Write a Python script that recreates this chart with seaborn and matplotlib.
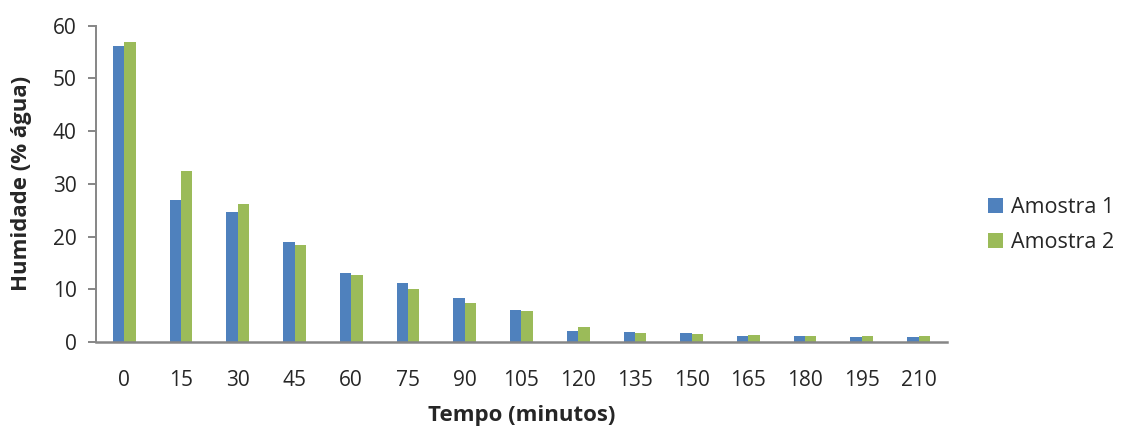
import matplotlib
matplotlib.use('Agg')
import matplotlib.pyplot as plt
import seaborn as sns
import pandas as pd

# dados
tempo = ['0', '15', '30', '45', '60', '75', '90', '105', '120', '135', '150', '165', '180', '195', '210']
amostra1 = [56.2, 26.9, 24.7, 18.9, 13.0, 11.2, 8.4, 6.1, 2.1, 1.9, 1.7, 1.2, 1.15, 0.87, 0.9]
amostra2 = [56.9, 32.4, 26.2, 18.4, 12.7, 10.0, 7.4, 5.95, 2.8, 1.8, 1.6, 1.4, 1.2, 1.1, 1.15]
series = ['Amostra 1', 'Amostra 2']
cores = ['#4F81BD', '#9BBB59']

df = pd.DataFrame({
    'Tempo': tempo * 2,
    'Humidade': amostra1 + amostra2,
    'Série': [series[0]] * len(tempo) + [series[1]] * len(tempo),
})

sns.set_style('white')
plt.rcParams['font.family'] = ['Open Sans', 'DejaVu Sans']
plt.rcParams['font.size'] = 15

fig = plt.figure(figsize=(11.25, 4.28), dpi=100)
ax = fig.add_axes([0.0853, 0.2009, 0.7564, 0.739])

sns.barplot(data=df, x='Tempo', y='Humidade', hue='Série', order=tempo,
            hue_order=series, palette=cores, width=0.4, saturation=1,
            linewidth=0, errorbar=None, ax=ax)

ax.set_xlim(-0.5, 14.5)
ax.set_ylim(0, 60)
ax.set_yticks(range(0, 61, 10))
ax.set_xlabel('Tempo (minutos)', fontweight='bold', fontsize=16, labelpad=10)
ax.set_ylabel('Humidade (% água)', fontweight='bold', fontsize=16, labelpad=15)

for s in ['top', 'right']:
    ax.spines[s].set_visible(False)
ax.spines['left'].set_color('#868686')
ax.spines['left'].set_linewidth(1.4)
ax.spines['bottom'].set_color('#868686')
ax.spines['bottom'].set_linewidth(1.8)
ax.tick_params(axis='y', left=True, length=6, width=1.4, color='#868686',
               labelsize=15, pad=8)
ax.tick_params(axis='x', bottom=False, labelsize=15, pad=17)

leg = ax.legend(loc='upper left', bbox_to_anchor=(0.878, 0.54),
                bbox_transform=fig.transFigure, frameon=False, fontsize=15.5,
                handlelength=0.7, handleheight=0.7, handletextpad=0.4,
                labelspacing=0.65, borderpad=0, borderaxespad=0)

plt.savefig('out.png', dpi=100)
